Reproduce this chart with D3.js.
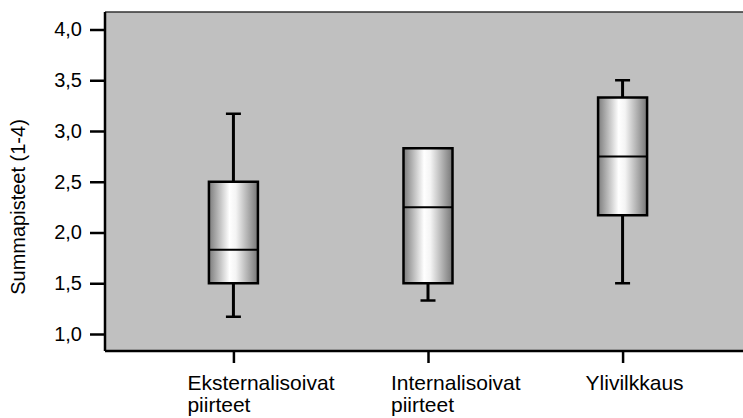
<!DOCTYPE html>
<html>
<head>
<meta charset="utf-8">
<script src="https://cdn.jsdelivr.net/npm/d3@7"></script>
<style>
  body { margin: 0; background: #fff; }
  svg { display: block; font-family: "Liberation Sans", Arial, sans-serif; }
</style>
</head>
<body>
<svg width="743" height="418"></svg>
<script>
// data
var categories = ["Eksternalisoivat piirteet", "Internalisoivat piirteet", "Ylivilkkaus"];
var whiskerLow  = [1.17, 1.33, 1.50];
var q1          = [1.50, 1.50, 2.17];
var median      = [1.83, 2.25, 2.75];
var q3          = [2.50, 2.83, 3.33];
var whiskerHigh = [3.17, 2.83, 3.50];
var yTicks = [1.0, 1.5, 2.0, 2.5, 3.0, 3.5, 4.0];
var yTitle = "Summapisteet (1-4)";

var svg = d3.select("svg");

var plotLeft = 105, plotTop = 12, plotBottom = 351, plotRight = 751;
var boxW = 49, capW = 15;
var labelDx = [-46, -37, -37];

var x = d3.scalePoint()
    .domain(categories)
    .range([plotLeft, plotRight])
    .padding(0.66);

var y = d3.scaleLinear()
    .domain([1, 4])
    .range([334, 29.5]);

var fmt = d3.formatLocale({decimal: ",", thousands: " ", grouping: [3], currency: ["", "€"]}).format(".1f");

// gradient for the boxes
var grad = svg.append("defs").append("linearGradient")
    .attr("id", "boxfill")
    .attr("x1", "0%").attr("x2", "100%")
    .attr("y1", "0%").attr("y2", "0%");
grad.append("stop").attr("offset", "0%").attr("stop-color", "#7c7c7c");
grad.append("stop").attr("offset", "42%").attr("stop-color", "#ffffff");
grad.append("stop").attr("offset", "55%").attr("stop-color", "#f4f4f4");
grad.append("stop").attr("offset", "100%").attr("stop-color", "#767676");

// plot background
svg.append("rect")
    .attr("x", plotLeft)
    .attr("y", plotTop)
    .attr("width", plotRight - plotLeft)
    .attr("height", plotBottom - plotTop)
    .attr("fill", "#c0c0c0");

svg.append("line")
    .attr("x1", plotLeft).attr("x2", plotRight)
    .attr("y1", plotTop).attr("y2", plotTop)
    .attr("stroke", "#333")
    .attr("stroke-width", 1.5);

var boxes = categories.map(function(c, i) {
  return {name: c, lo: whiskerLow[i], q1: q1[i], med: median[i], q3: q3[i], hi: whiskerHigh[i]};
});

var g = svg.append("g").selectAll("g")
    .data(boxes)
    .enter().append("g")
    .attr("transform", function(d) { return "translate(" + x(d.name) + ",0)"; });

// whiskers
g.append("line")
    .attr("y1", function(d) { return y(d.hi); })
    .attr("y2", function(d) { return y(d.q3); })
    .attr("stroke", "#000").attr("stroke-width", 3);
g.append("line")
    .attr("y1", function(d) { return y(d.q1); })
    .attr("y2", function(d) { return y(d.lo); })
    .attr("stroke", "#000").attr("stroke-width", 3);
g.append("line")
    .attr("x1", -capW / 2).attr("x2", capW / 2)
    .attr("y1", function(d) { return y(d.hi); })
    .attr("y2", function(d) { return y(d.hi); })
    .attr("stroke", "#000").attr("stroke-width", 2.5);
g.append("line")
    .attr("x1", -capW / 2).attr("x2", capW / 2)
    .attr("y1", function(d) { return y(d.lo); })
    .attr("y2", function(d) { return y(d.lo); })
    .attr("stroke", "#000").attr("stroke-width", 2.5);

// box
g.append("rect")
    .attr("x", -boxW / 2)
    .attr("width", boxW)
    .attr("y", function(d) { return y(d.q3); })
    .attr("height", function(d) { return y(d.q1) - y(d.q3); })
    .attr("fill", "url(#boxfill)")
    .attr("stroke", "#000")
    .attr("stroke-width", 2.5);

// median
g.append("line")
    .attr("x1", -boxW / 2).attr("x2", boxW / 2)
    .attr("y1", function(d) { return y(d.med); })
    .attr("y2", function(d) { return y(d.med); })
    .attr("stroke", "#000").attr("stroke-width", 2);

// y axis
var yAxis = svg.append("g")
    .attr("transform", "translate(" + plotLeft + ",0)")
    .call(d3.axisLeft(y).tickValues(yTicks).tickSize(15).tickPadding(8).tickFormat(fmt));
yAxis.select(".domain").remove();
yAxis.selectAll(".tick line").attr("stroke", "#000").attr("stroke-width", 2.5);
yAxis.selectAll(".tick text")
    .attr("fill", "#000")
    .style("font-size", "20px")
    .style("font-family", "Liberation Sans, Arial, sans-serif");

// x axis ticks
var xAxis = svg.append("g")
    .attr("transform", "translate(0," + plotBottom + ")")
    .call(d3.axisBottom(x).tickSize(12).tickFormat(""));
xAxis.select(".domain").remove();
xAxis.selectAll(".tick line").attr("stroke", "#000").attr("stroke-width", 2.5);

// frame lines
svg.append("line")
    .attr("x1", plotLeft).attr("x2", plotLeft)
    .attr("y1", plotTop).attr("y2", plotBottom)
    .attr("stroke", "#000").attr("stroke-width", 2.5);
svg.append("line")
    .attr("x1", plotLeft).attr("x2", plotRight)
    .attr("y1", plotBottom).attr("y2", plotBottom)
    .attr("stroke", "#000").attr("stroke-width", 2.5);

// category labels
var lab = svg.append("g").selectAll("text")
    .data(categories)
    .enter().append("text")
    .attr("x", function(d, i) { return x(d) + labelDx[i]; })
    .attr("y", 390)
    .attr("fill", "#000")
    .style("font-size", "21px");
lab.selectAll("tspan")
    .data(function(d, i) { return d.split(" ").map(function(w) { return {w: w, x: x(d) + labelDx[i]}; }); })
    .enter().append("tspan")
    .attr("x", function(d) { return d.x; })
    .attr("dy", function(d, j) { return j ? 21.7 : 0; })
    .text(function(d) { return d.w; });

// y title
svg.append("text")
    .attr("transform", "translate(25,207) rotate(-90)")
    .attr("text-anchor", "middle")
    .attr("fill", "#000")
    .style("font-size", "20px")
    .text(yTitle);
</script>
</body>
</html>
